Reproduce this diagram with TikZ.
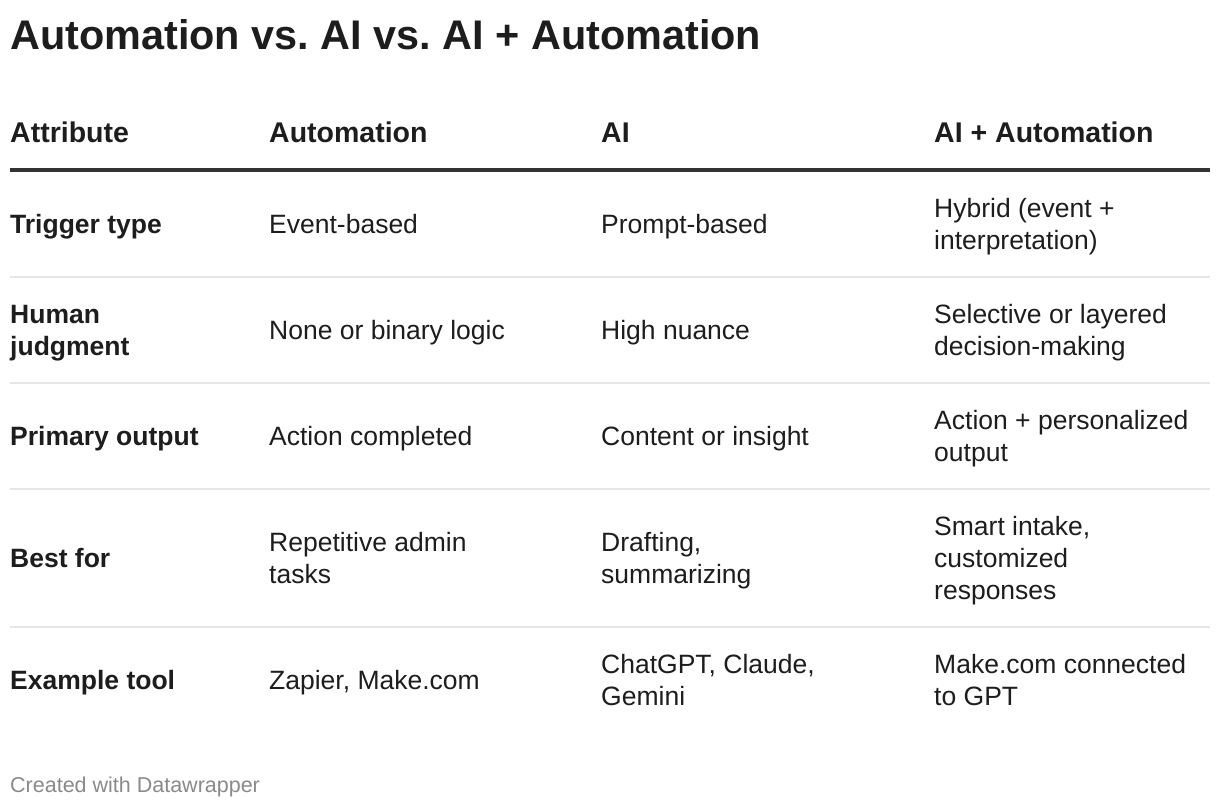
\documentclass[tikz,border=0pt]{standalone}
\usepackage{fontspec}
\setmainfont{Liberation Sans}
\frenchspacing
\definecolor{txt}{HTML}{1D1D1D}
\definecolor{rulegray}{HTML}{E6E6E6}
\definecolor{ruledark}{HTML}{333333}
\definecolor{foot}{HTML}{8A8A8A}
\newcommand{\lnstrut}{\rule[-6pt]{0pt}{31pt}}
\begin{document}
\begin{tikzpicture}[x=1pt,y=-1pt,
  cell/.style={anchor=west,inner sep=0pt,align=left,text=txt,font=\fontsize{26.5}{32}\selectfont,
    execute at begin node=\lnstrut, execute at end node=\lnstrut},
  rowhead/.style={cell,font=\fontsize{26.5}{32}\selectfont\bfseries},
  colhead/.style={cell,font=\fontsize{28.5}{32}\selectfont\bfseries},
  lightrule/.style={draw=rulegray,line width=2pt},
  darkrule/.style={draw=ruledark,line width=3.5pt}]
\useasboundingbox[fill=white] (0,0) rectangle (1220,808);
\node[anchor=base west,inner sep=0pt,text=txt,font=\fontsize{41.4}{48}\selectfont\bfseries] (title) at (10,49) {Automation vs. AI vs. AI + Automation};
% column heads
\node[colhead] (h1) at (10,133) {Attribute};
\node[colhead] (h2) at (269,133) {Automation};
\node[colhead] (h3) at (601,133) {AI};
\node[colhead] (h4) at (934,133) {AI + Automation};
% rules
\coordinate (l0a) at (10,170); \coordinate (l0b) at (1210,170);
\draw[darkrule] (l0a) -- (l0b);
\foreach \yy/\nm in {277/a,383/b,489/c,627/d}{
  \coordinate (r\nm1) at (10,\yy); \coordinate (r\nm2) at (1210,\yy);
  \draw[lightrule] (r\nm1) -- (r\nm2);
}
% row 1
\node[rowhead] (a1) at (10,224) {Trigger type};
\node[cell] (a2) at (269,224) {Event-based};
\node[cell] (a3) at (601,224) {Prompt-based};
\node[cell] (a4) at (934,224) {\lnstrut Hybrid (event +\\interpretation)};
% row 2
\node[rowhead] (b1) at (10,330) {\lnstrut Human\\judgment};
\node[cell] (b2) at (269,330) {None or binary logic};
\node[cell] (b3) at (601,330) {High nuance};
\node[cell] (b4) at (934,330) {\lnstrut Selective or layered\\decision-making};
% row 3
\node[rowhead] (c1) at (10,436) {Primary output};
\node[cell] (c2) at (269,436) {Action completed};
\node[cell] (c3) at (601,436) {Content or insight};
\node[cell] (c4) at (934,436) {\lnstrut Action + personalized\\output};
% row 4
\node[rowhead] (d1) at (10,558) {Best for};
\node[cell] (d2) at (269,558) {\lnstrut Repetitive admin\\tasks};
\node[cell] (d3) at (601,558) {\lnstrut Drafting,\\summarizing};
\node[cell] (d4) at (934,558) {\lnstrut Smart intake,\\customized\\responses};
% row 5
\node[rowhead] (e1) at (10,680) {Example tool};
\node[cell] (e2) at (269,680) {Zapier, Make.com};
\node[cell] (e3) at (601,680) {\lnstrut ChatGPT, Claude,\\Gemini};
\node[cell] (e4) at (934,680) {\lnstrut Make.com connected\\to GPT};
% footer
\node[anchor=base west,inner sep=0pt,text=foot,font=\fontsize{21.5}{24}\selectfont] (foot) at (10,792) {Created with Datawrapper};
\end{tikzpicture}
\end{document}
